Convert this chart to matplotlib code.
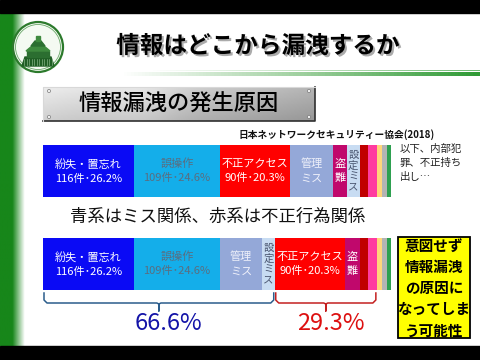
import numpy as np
import matplotlib.pyplot as plt
import matplotlib.patheffects as pe
from matplotlib.patches import Rectangle, Circle, Polygon
from matplotlib.colors import LinearSegmentedColormap

plt.rcParams['font.family'] = ['Noto Sans CJK JP', 'DejaVu Sans']

# 件数 (日本ネットワークセキュリティ協会 2018)
causes = ['紛失・置忘れ', '誤操作', '不正アクセス', '管理ミス', '盗難', '設定ミス',
          '内部犯罪', '不正持ち出し', 'バグ', 'ウイルス', 'その他']
counts = [116, 109, 90, 54, 18, 16, 11, 11, 7, 6, 5]
colors = ['#0a0af5', '#14aeea', '#ff0000', '#94a8d8', '#c0086c', '#c8dcf2',
          '#c00000', '#ff3ca0', '#ffd67a', '#b4b4b4', '#2ea050']

order_top = ['紛失・置忘れ', '誤操作', '不正アクセス', '管理ミス', '盗難', '設定ミス',
             '内部犯罪', '不正持ち出し', 'バグ', 'ウイルス', 'その他']
order_bottom = ['紛失・置忘れ', '誤操作', '管理ミス', '設定ミス', '不正アクセス', '盗難',
                '内部犯罪', '不正持ち出し', 'バグ', 'ウイルス', 'その他']
blue_group = ['紛失・置忘れ', '誤操作', '管理ミス', '設定ミス']
red_group = ['不正アクセス', '盗難', '内部犯罪', '不正持ち出し']

labels = {
    '紛失・置忘れ': ('紛失・置忘れ\n{n}件･{p}%', 'white', 'horizontal'),
    '誤操作': ('誤操作\n{n}件･{p}%', '#5a6e80', 'horizontal'),
    '不正アクセス': ('不正アクセス\n{n}件･{p}%', 'white', 'horizontal'),
    '管理ミス': ('管理\nミス', '#eef0fa', 'horizontal'),
    '盗難': ('盗\n難', 'white', 'horizontal'),
    '設定ミス': ('設\n定\nミ\nス', '#4a5670', 'vertical'),
}

cnt = dict(zip(causes, counts))
col = dict(zip(causes, colors))
total = sum(counts)

fig = plt.figure(figsize=(4.8, 3.6), dpi=100)
W, H = 480, 360


def frac(x0, y0, x1, y1):
    return [x0 / W, 1 - y1 / H, (x1 - x0) / W, (y1 - y0) / H]


bg = fig.add_axes([0, 0, 1, 1])
bg.set_xlim(0, W)
bg.set_ylim(H, 0)
bg.axis('off')

# black bands
bg.add_patch(Rectangle((0, 0), W, 13, color='black', zorder=5))
bg.add_patch(Rectangle((0, 346), W, 14, color='black', zorder=5))

# green edge on the left
green_fade = LinearSegmentedColormap.from_list('gf', ['#17861a', '#17861a', '#ffffff'])
bg.imshow(np.linspace(0, 1, 60)[None, :], cmap=green_fade, extent=(0, 25, 346, 13),
          aspect='auto', zorder=1)

# line under title
line_cm = LinearSegmentedColormap.from_list('lc', ['#ffffff', '#9fd09f', '#2f9a35'])
bg.imshow(np.linspace(0, 1, 100)[None, :], cmap=line_cm, extent=(120, W, 76, 72),
          aspect='auto', zorder=1)
bg.imshow(np.linspace(0, 1, 100)[None, :], cmap=line_cm, extent=(150, W, 71, 70),
          aspect='auto', zorder=1, alpha=0.7)

# logo
bg.add_patch(Circle((38, 47), 25, facecolor='#f4faf2', edgecolor='#2c7a2c', lw=1.6, zorder=3))
bg.add_patch(Circle((38, 47), 22.5, facecolor='none', edgecolor='#6aa86a', lw=0.6, zorder=3))
bg.add_patch(Polygon([(22, 66), (54, 66), (51, 57), (25, 57)], color='#1f5e24', zorder=4))
bg.add_patch(Rectangle((27, 51), 22, 6, color='#2b6e30', zorder=4))
bg.add_patch(Polygon([(26, 51), (50, 51), (44, 46), (32, 46)], color='#3e8a3e', zorder=4))
bg.add_patch(Polygon([(31, 46), (45, 46), (41, 41), (35, 41)], color='#2b6e30', zorder=4))
bg.add_patch(Rectangle((36, 36), 4, 5, color='#3e8a3e', zorder=4))
for xx in np.arange(24, 53, 2.5):
    bg.plot([xx, xx], [59, 65], color='#9cc89c', lw=0.4, zorder=4)

# title
bg.text(258, 46, '情報はどこから漏洩するか', fontsize=17, fontweight='bold',
        ha='center', va='center', color='black', zorder=6,
        path_effects=[pe.withSimplePatchShadow(offset=(1.5, -1.5), shadow_rgbFace='#888888', alpha=0.7)])

# silver plate
yy, xx = np.mgrid[0:1:40j, 0:1:200j]
silver = 0.93 - 0.22 * xx - 0.12 * yy + 0.05 * np.exp(-((xx - 0.35) ** 2) / 0.02)
bg.imshow(silver, cmap='gray', vmin=0, vmax=1, extent=(43, 315, 121, 87),
          aspect='auto', zorder=2)
bg.plot([43, 315, 315], [121, 121, 87], color='#303030', lw=1.2, zorder=3)
bg.plot([43, 43, 315], [121, 87, 87], color='#d8d8d8', lw=0.8, zorder=3)
for sx, sy in [(49, 91), (49, 117), (309, 91), (309, 117)]:
    bg.add_patch(Circle((sx, sy), 1.6, facecolor='#eeeeee', edgecolor='#666666', lw=0.4, zorder=3))
bg.text(179, 104, '情報漏洩の発生原因', fontsize=16, fontweight='medium',
        ha='center', va='center', color='black', zorder=4)

bg.text(337, 135, '日本ネットワークセキュリティー協会(2018)', fontsize=7, fontweight='bold',
        ha='center', va='center', color='#111111', zorder=4)
bg.text(218, 217, '青系はミス関係、赤系は不正行為関係', fontsize=12.5,
        ha='center', va='center', color='#111111', zorder=4)
bg.text(400, 163, '以下、内部犯\n罪、不正持ち\n出し…', fontsize=7.5, linespacing=1.45,
        ha='left', va='center', color='#222222', zorder=4)

# yellow note
bg.add_patch(Rectangle((398, 237), 72, 101, facecolor='#ffff00', edgecolor='black', lw=1.3, zorder=3))
bg.text(434, 288, '意図せず\n情報漏洩\nの原因に\nなってしま\nう可能性', fontsize=10.5,
        fontweight='bold', linespacing=1.4, ha='center', va='center', color='black', zorder=4)


def stacked_bar(rect, order):
    ax = fig.add_axes(frac(*rect))
    vals = [cnt[c] for c in order]
    lefts = np.concatenate([[0], np.cumsum(vals)[:-1]])
    ax.barh(0, vals, left=lefts, height=1, color=[col[c] for c in order], linewidth=0)
    ax.set_xlim(0, total)
    ax.set_ylim(-0.5, 0.5)
    ax.axis('off')
    for c, l, v in zip(order, lefts, vals):
        if c not in labels:
            continue
        fmt, tc, rot = labels[c]
        txt = fmt.format(n=v, p=f'{v / total * 100:.1f}')
        if rot == 'vertical':
            ax.text(l + v / 2, 0, txt, fontsize=7.5, color=tc, ha='center', va='center',
                    linespacing=1.05)
        else:
            ax.text(l + v / 2, 0, txt, fontsize=8, color=tc, ha='center', va='center',
                    linespacing=1.5)
    return ax


ax1 = stacked_bar((43, 145, 391, 197), order_top)
ax2 = stacked_bar((43, 238, 391, 290), order_bottom)

# braces under the second bar
to_bg = bg.transData.inverted()


def px(c):
    return to_bg.transform(ax2.transData.transform((c, 0)))[0]


def brace(c0, c1, color):
    x0, x1 = px(c0) + 1, px(c1) - 1
    xm = (x0 + x1) / 2
    bg.plot([x0, x0, x0 + 3, xm - 2, xm, xm, xm, xm + 2, x1 - 3, x1, x1],
            [293, 300, 303, 303, 304, 311, 304, 303, 303, 300, 293],
            color=color, lw=1.1, zorder=4, solid_joinstyle='round')
    return xm


blue_sum = sum(cnt[c] for c in blue_group)
red_sum = sum(cnt[c] for c in red_group)
bx = brace(0, blue_sum, '#2b5d8c')
rx = brace(blue_sum, blue_sum + red_sum, '#c42020')
bg.text(bx + 10, 324, f'{blue_sum / total * 100:.1f}%', fontsize=17, color='#1414a8',
        ha='center', va='center', zorder=4)
bg.text(rx + 5, 324, f'{red_sum / total * 100:.1f}%', fontsize=17, color='#dd1010',
        ha='center', va='center', zorder=4)

fig.savefig('out.png', dpi=100)
